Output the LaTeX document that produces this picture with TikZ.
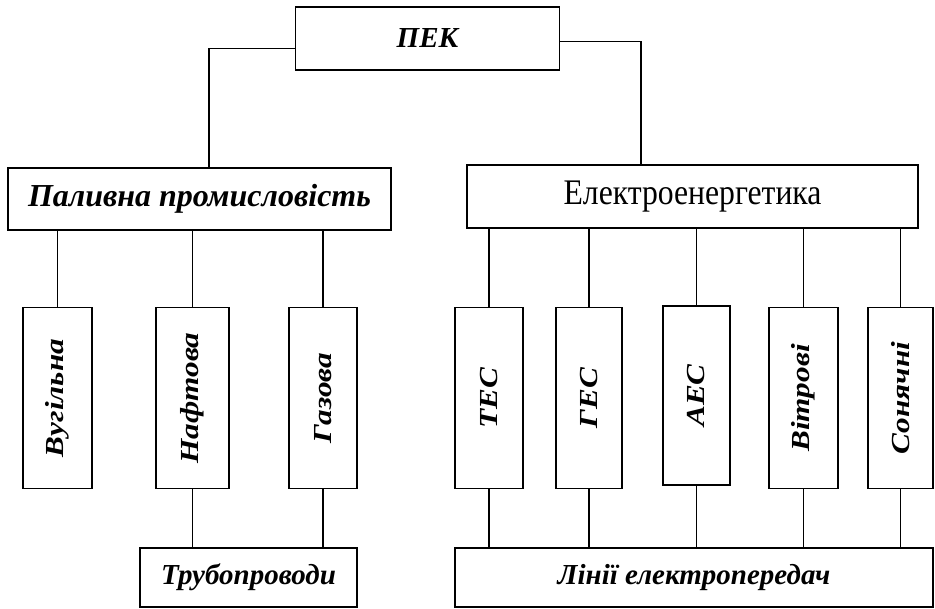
\documentclass[tikz,border=0pt]{standalone}
\usepackage{fontspec}
\setmainfont{Liberation Serif}
\usepackage{graphicx}
\usetikzlibrary{calc}
\newcommand{\uprtext}[1]{\rotatebox{90}{\scalebox{1.2}[1]{\bfseries\itshape #1}}}

\begin{document}
\begin{tikzpicture}[x=1pt,y=-1pt,
  box/.style={draw,line width=1.6pt,inner sep=0pt,font=\fontsize{29}{32}\selectfont},
  branch/.style={box,minimum width=67pt,minimum height=181pt,font=\fontsize{26}{28}\selectfont},
  link/.style={line width=1.3pt}]
\useasboundingbox (0,0) rectangle (935,609);

% upper levels
\node[box,minimum width=264pt,minimum height=63pt] (pek) at (427.5,38.5) {\bfseries\itshape ПЕК};
\node[box,minimum width=383pt,minimum height=62pt,font=\fontsize{32}{34}\selectfont] (fuel) at (199.5,199) {\bfseries\itshape Паливна промисловість};
\node[box,minimum width=451pt,minimum height=63pt,font=\fontsize{36}{38}\selectfont] (elec) at (692.5,196.5) {\scalebox{0.88}[1]{Електроенергетика}};

% branches
\node[branch,minimum width=69pt] (coal) at (57.5,398) {\uprtext{Вугільна}};
\node[branch,minimum width=73pt] (oil) at (192.5,398) {\uprtext{Нафтова}};
\node[branch,minimum width=68pt] (gas) at (323,398) {\uprtext{Газова}};
\node[branch,minimum width=68pt] (tes) at (489,398) {\uprtext{ТЕС}};
\node[branch,minimum width=66pt] (ges) at (589,398) {\uprtext{ГЕС}};
\node[branch,minimum width=67pt,minimum height=179pt] (aes) at (696.5,395.5) {\uprtext{АЕС}};
\node[branch,minimum width=69pt] (wind) at (803.5,398) {\uprtext{Вітрові}};
\node[branch,minimum width=65pt] (sun) at (900.5,398) {\uprtext{Сонячні}};

% transport
\node[box,minimum width=217pt,minimum height=59pt] (pipe) at (248.5,577.5) {\bfseries\itshape Трубопроводи};
\node[box,minimum width=478pt,minimum height=59pt] (grid) at (694,577.5) {\bfseries\itshape Лінії електропередач};

\draw[link] ([yshift=-10pt]pek.west) -| ([xshift=9.5pt]fuel.north);
\draw[link] ([yshift=-3pt]pek.east) -| ([xshift=-51.5pt]elec.north);

\foreach \n in {coal,oil,gas}
  \draw[link] (fuel.south -| \n.north) -- (\n.north);
\foreach \n in {tes,ges,aes,wind,sun}
  \draw[link] (elec.south -| \n.north) -- (\n.north);

\foreach \n in {oil,gas}
  \draw[link] (\n.south) -- (\n.south |- pipe.north);
\foreach \n in {tes,ges,aes,wind,sun}
  \draw[link] (\n.south) -- (\n.south |- grid.north);

\end{tikzpicture}
\end{document}
